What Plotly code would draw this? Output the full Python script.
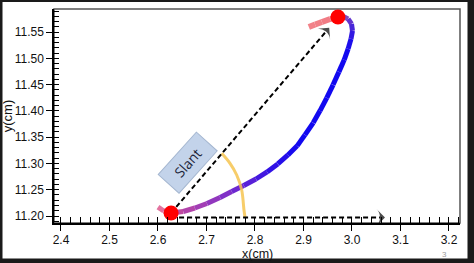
import plotly.graph_objects as go

# ---- data ----
curve_x = [2.600, 2.612, 2.627, 2.652, 2.676, 2.701, 2.728, 2.752, 2.777, 2.802,
           2.825, 2.847, 2.868, 2.887, 2.903, 2.920, 2.934, 2.948, 2.961, 2.973,
           2.984, 2.992, 2.998, 3.001, 2.999, 2.992, 2.982, 2.971, 2.955, 2.938,
           2.924, 2.911]
curve_y = [11.217, 11.2095, 11.2057, 11.2086, 11.2152, 11.2238, 11.2352, 11.2466, 11.2580, 11.2704,
           11.2838, 11.2990, 11.3161, 11.3335, 11.3544, 11.3773, 11.4001, 11.4248, 11.4495, 11.4742,
           11.4971, 11.5180, 11.5370, 11.5522, 11.5655, 11.5750, 11.5797, 11.5785, 11.5747, 11.5690,
           11.5643, 11.5595]

dots_x = [2.627, 2.971]
dots_y = [11.2057, 11.5785]

slant_x = [2.627, 2.953]
slant_y = [11.2057, 11.5580]

horiz_x = [2.627, 3.068]
horiz_y = [11.197, 11.197]

arc_x = [2.7313, 2.7485, 2.7623, 2.7726, 2.7773, 2.7794]
arc_y = [11.3193, 11.3002, 11.278, 11.2495, 11.2114, 11.1975]

label_text = "Slant"
label_x, label_y = 2.662, 11.301

x_ticks = [2.4, 2.5, 2.6, 2.7, 2.8, 2.9, 3.0, 3.1, 3.2]
y_ticks = [11.20, 11.25, 11.30, 11.35, 11.40, 11.45, 11.50, 11.55]

# ---- style ----
stops = [(0, (236, 128, 160)), (2, (200, 76, 156)), (4, (170, 66, 176)), (7, (120, 44, 204)),
         (10, (56, 20, 228)), (13, (18, 8, 240)), (21, (18, 8, 240)), (23, (60, 30, 222)),
         (25, (110, 60, 200)), (26, (150, 84, 180)), (27, (240, 120, 130)), (31, (242, 132, 138))]


def col_at(t):
    for (i0, c0), (i1, c1) in zip(stops[:-1], stops[1:]):
        if i0 <= t <= i1:
            f = (t - i0) / (i1 - i0) if i1 > i0 else 0
            return "rgb(%d,%d,%d)" % tuple(round(a + (b - a) * f) for a, b in zip(c0, c1))
    return "rgb(%d,%d,%d)" % stops[-1][1]


fig = go.Figure()

for i in range(len(curve_x) - 1):
    w = 6 if i >= 27 else 5
    fig.add_trace(go.Scatter(
        x=curve_x[i:i + 2], y=curve_y[i:i + 2], mode="lines",
        line=dict(color=col_at(i + 0.5), width=w), hoverinfo="skip", showlegend=False))

fig.add_trace(go.Scatter(x=arc_x, y=arc_y, mode="lines",
                         line=dict(color="rgba(246,196,80,0.85)", width=3, shape="spline"),
                         showlegend=False))

for ax_, ay_ in [(slant_x, slant_y), (horiz_x, horiz_y)]:
    fig.add_trace(go.Scatter(
        x=ax_, y=ay_, mode="lines+markers",
        line=dict(color="black", width=2, dash="5px,3px"),
        marker=dict(symbol=["circle", "arrow-wide"], size=[0, 12], color="black",
                    angleref="previous", line=dict(width=0)),
        showlegend=False))

fig.add_trace(go.Scatter(x=dots_x, y=dots_y, mode="markers",
                         marker=dict(color="#ff0000", size=15, line=dict(width=0)),
                         showlegend=False))

# invisible traces to create overlay axes for inside ticks
fig.add_trace(go.Scatter(x=[None], y=[None], xaxis="x2", yaxis="y", showlegend=False))
fig.add_trace(go.Scatter(x=[None], y=[None], xaxis="x", yaxis="y2", showlegend=False))

xr = [2.3856, 3.2227]
yr = [11.1867, 11.5938]
font = "Liberation Sans, Arial, sans-serif"

fig.update_layout(
    width=474, height=263,
    margin=dict(l=54, r=14, t=9, b=40),
    paper_bgcolor="white", plot_bgcolor="white",
    font=dict(family=font, color="#111", size=12),
    xaxis=dict(range=xr, tickvals=x_ticks, ticktext=[f"{v:.1f}" for v in x_ticks],
               ticks="outside", ticklen=6, tickwidth=1.2, tickcolor="black",
               ticklabelstandoff=-1,
               showline=True, linecolor="black", linewidth=1.5,
               showgrid=False, zeroline=False, automargin=False),
    yaxis=dict(range=yr, tickvals=y_ticks, ticktext=[f"{v:.2f}" for v in y_ticks],
               ticks="outside", ticklen=6, tickwidth=1.2, tickcolor="black",
               showline=True, linecolor="black", linewidth=1.5,
               showgrid=False, zeroline=False, automargin=False,
               title=dict(text="y(cm)", font=dict(size=13), standoff=2)),
    xaxis2=dict(range=xr, overlaying="x", anchor="y", side="bottom", matches="x",
                tick0=2.4, dtick=0.02, ticks="inside", ticklen=6, tickwidth=1.2,
                tickcolor="black", showticklabels=False, showline=False,
                showgrid=False, zeroline=False, automargin=False),
    yaxis2=dict(range=yr, overlaying="y", anchor="x", side="left", matches="y",
                tick0=11.2, dtick=0.01, ticks="inside", ticklen=5, tickwidth=1.2,
                tickcolor="black", showticklabels=False, showline=False,
                showgrid=False, zeroline=False, automargin=False),
)

# plot frame (top / right in gray)
fig.add_shape(type="rect", xref="paper", yref="paper", x0=0, y0=0, x1=1, y1=1,
              line=dict(color="#555", width=1.5), layer="below")

# outer dark border of the picture
W, H = 406.0, 214.0
def px(v): return (v - 54) / W
def py(v): return (223 - v) / H
for (a, b, c, d) in [(0, 0, 2.5, 263), (467.5, 0, 474, 263), (0, 0, 474, 2), (0, 258.5, 474, 263)]:
    fig.add_shape(type="rect", xref="paper", yref="paper",
                  x0=px(a), x1=px(c), y0=py(d), y1=py(b),
                  fillcolor="#1a1a1a", line=dict(width=0), layer="above")

# x axis title
fig.add_annotation(x=0.5, y=py(254), xref="paper", yref="paper", text="x(cm)",
                   showarrow=False, xanchor="center", yanchor="middle",
                   font=dict(size=12.5, color="#111"))

fig.add_annotation(x=label_x, y=label_y, xref="x", yref="y", text=label_text,
                   showarrow=False, textangle=-48,
                   font=dict(family="Open Sans, sans-serif", size=14, color="#1c2438"),
                   bgcolor="#c3d3ea", bordercolor="#a4b6d0", borderwidth=1, borderpad=4,
                   width=48)

fig.add_annotation(x=px(444), y=py(254), xref="paper", yref="paper", text="3",
                   showarrow=False, xanchor="center", yanchor="middle",
                   font=dict(size=8, color="#9a9a9a"))

fig.write_html("out.html")
